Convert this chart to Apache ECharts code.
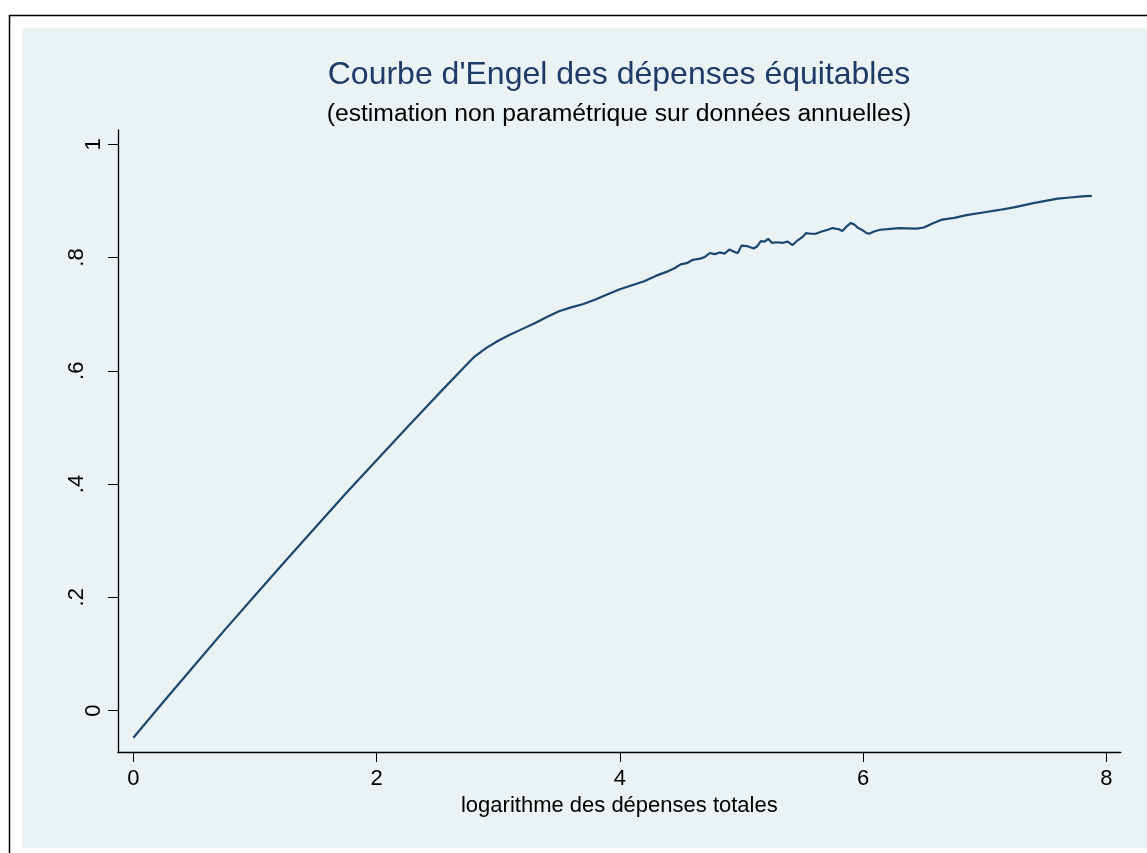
<!DOCTYPE html>
<html>
<head>
<meta charset="utf-8">
<script src="https://cdn.jsdelivr.net/npm/echarts@6/dist/echarts.min.js"></script>
<style>
  html, body { margin: 0; padding: 0; background: #ffffff; }
  #chart { width: 1147px; height: 853px; }
</style>
</head>
<body>
<div id="chart"></div>
<script>
// Nonparametric Engel curve: share of equitable spending vs log of total spending
const logDepenses = [
  0.00, 0.25, 0.50, 0.75, 1.00, 1.25, 1.50, 1.75, 2.00, 2.25, 2.50, 2.70, 2.80, 2.90,
  3.00, 3.10, 3.20, 3.30, 3.40, 3.50, 3.60, 3.70, 3.80, 3.90, 4.00, 4.10, 4.20, 4.30,
  4.40, 4.45, 4.50, 4.55, 4.60, 4.66, 4.70, 4.74, 4.78, 4.82, 4.86, 4.90, 4.94, 4.97,
  5.00, 5.05, 5.10, 5.13, 5.16, 5.19, 5.22, 5.25, 5.29, 5.34, 5.38, 5.42, 5.46, 5.50,
  5.53, 5.57, 5.61, 5.66, 5.71, 5.75, 5.80, 5.83, 5.87, 5.90, 5.93, 5.96, 5.99, 6.03,
  6.05, 6.09, 6.14, 6.20, 6.30, 6.44, 6.50, 6.57, 6.65, 6.75, 6.85, 7.00, 7.12, 7.25,
  7.40, 7.50, 7.60, 7.70, 7.80, 7.88
];
const partEquitable = [
  -0.048, 0.016, 0.079, 0.142, 0.203, 0.264, 0.324, 0.384, 0.442, 0.500, 0.557, 0.602, 0.624, 0.640,
  0.653, 0.664, 0.674, 0.684, 0.695, 0.705, 0.712, 0.718, 0.726, 0.735, 0.744, 0.751, 0.758, 0.768,
  0.776, 0.781, 0.788, 0.790, 0.796, 0.798, 0.801, 0.808, 0.806, 0.809, 0.807, 0.814, 0.810, 0.808,
  0.821, 0.820, 0.816, 0.820, 0.829, 0.828, 0.833, 0.826, 0.827, 0.826, 0.828, 0.822, 0.830, 0.836,
  0.843, 0.842, 0.842, 0.846, 0.849, 0.852, 0.850, 0.847, 0.856, 0.861, 0.858, 0.852, 0.849, 0.843,
  0.842, 0.846, 0.849, 0.850, 0.852, 0.851, 0.853, 0.860, 0.867, 0.870, 0.875, 0.880, 0.884, 0.889,
  0.896, 0.900, 0.904, 0.906, 0.908, 0.909
];

const xTicks = [0, 2, 4, 6, 8];
const xTickLabels = ['0', '2', '4', '6', '8'];
const yTicks = [0, 0.2, 0.4, 0.6, 0.8, 1];
const yTickLabels = ['0', '.2', '.4', '.6', '.8', '1'];

const titleText = "Courbe d'Engel des dépenses équitables";
const subtitleText = '(estimation non paramétrique sur données annuelles)';
const xAxisTitle = 'logarithme des dépenses totales';

const FONT = '"Liberation Sans", Arial, sans-serif';
const points = logDepenses.map((x, i) => [x, partEquitable[i]]);

const chart = echarts.init(document.getElementById('chart'), null, { renderer: 'canvas' });

chart.setOption({
  animation: false,
  backgroundColor: '#ffffff',
  graphic: [
    { type: 'rect', z: -10, silent: true,
      shape: { x: 9.5, y: 15.5, width: 1200, height: 900 },
      style: { fill: '#ffffff', stroke: '#000000', lineWidth: 1.5 } },
    { type: 'rect', z: -9, silent: true,
      shape: { x: 22, y: 28, width: 1125, height: 820 },
      style: { fill: '#eaf2f3' } }
  ],
  title: [
    { text: titleText, left: 619, top: 59, textAlign: 'center', padding: 0,
      textStyle: { fontFamily: FONT, fontSize: 32, fontWeight: 'normal', color: '#1e3a68' } },
    { text: subtitleText, left: 619, top: 102, textAlign: 'center', padding: 0,
      textStyle: { fontFamily: FONT, fontSize: 24.7, fontWeight: 'normal', color: '#000000' } }
  ],
  grid: { left: 118, right: 26.3, top: 130, bottom: 101, containLabel: false },
  xAxis: {
    type: 'value',
    min: -0.126, max: 8.118,
    name: xAxisTitle, nameLocation: 'middle', nameGap: 39,
    nameTextStyle: { fontFamily: FONT, fontSize: 22, color: '#000000' },
    axisLine: { show: true, onZero: false, lineStyle: { color: '#000000', width: 1.3 } },
    axisTick: { show: true, customValues: xTicks, length: 10, lineStyle: { color: '#000000', width: 1 } },
    axisLabel: {
      customValues: xTicks, margin: 16,
      formatter: v => xTickLabels[xTicks.indexOf(Math.round(v))] ?? '',
      fontFamily: FONT, fontSize: 22, color: '#000000'
    },
    splitLine: { show: false }
  },
  yAxis: {
    type: 'value',
    min: -0.0732, max: 1.0252,
    axisLine: { show: true, onZero: false, lineStyle: { color: '#000000', width: 1.3 } },
    axisTick: { show: true, customValues: yTicks, length: 10, lineStyle: { color: '#000000', width: 1 } },
    axisLabel: {
      customValues: yTicks, rotate: 90, margin: 13,
      formatter: v => {
        const i = yTicks.findIndex(t => Math.abs(t - v) < 1e-6);
        const s = i >= 0 ? yTickLabels[i] : '';
        return s.startsWith('.') ? '{f|' + s + '}' : '{w|' + s + '}';
      },
      fontFamily: FONT, fontSize: 22, color: '#000000',
      rich: {
        w: { fontFamily: FONT, fontSize: 22, color: '#000000' },
        f: { fontFamily: FONT, fontSize: 22, color: '#000000', padding: [0, 0, 17, 0] }
      }
    },
    splitLine: { show: false }
  },
  series: [{
    type: 'line',
    data: points,
    showSymbol: false,
    smooth: false,
    lineStyle: { color: '#1a476f', width: 2.2 },
    itemStyle: { color: '#1a476f' }
  }]
});
</script>
</body>
</html>
